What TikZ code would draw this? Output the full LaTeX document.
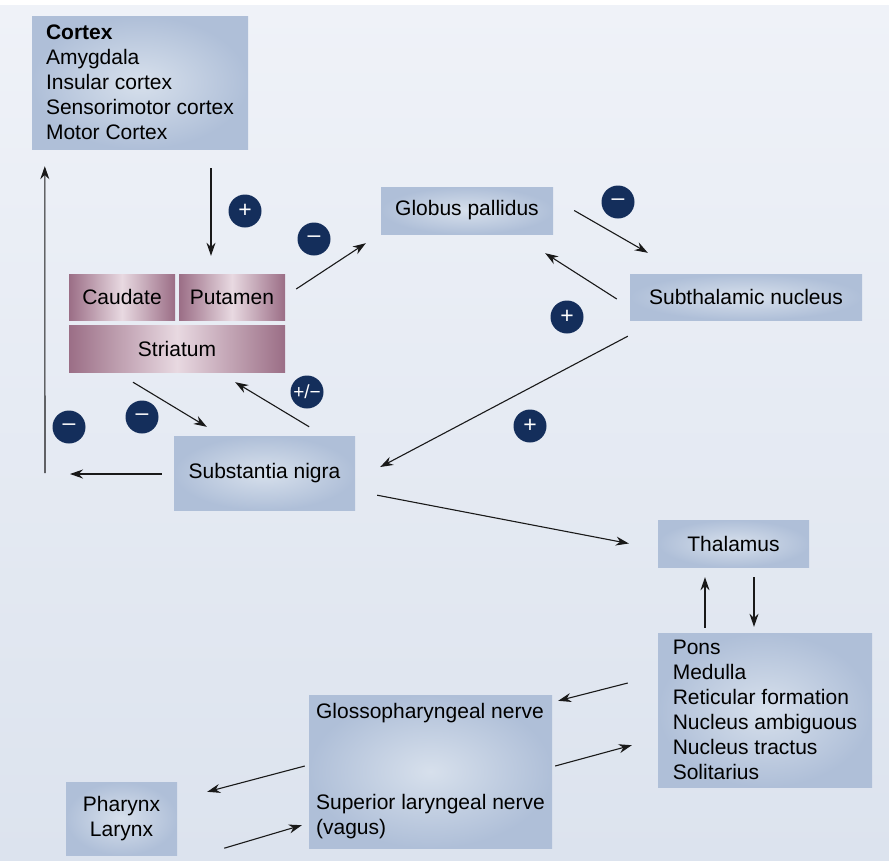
\documentclass[tikz,border=0pt]{standalone}
\usepackage{fontspec}
\setmainfont{Liberation Sans}
\usetikzlibrary{arrows.meta}
\definecolor{boxOuter}{HTML}{AFBFD8}
\definecolor{boxInner}{HTML}{D7E0EC}
\definecolor{mauveDark}{HTML}{9B6E86}
\definecolor{mauveLight}{HTML}{E8D9E1}
\definecolor{signBlue}{HTML}{142E5B}
\definecolor{bgTop}{HTML}{EFF2F8}
\definecolor{bgBottom}{HTML}{DCE3EE}
\tikzset{
	region/.style={inner color=boxInner, outer color=boxOuter, inner sep=0pt, align=left, font=\fontsize{21}{25}\selectfont},
	nucleus/.style={left color=mauveDark, right color=mauveDark, middle color=mauveLight, inner sep=0pt, minimum height=46pt, font=\fontsize{21}{25}\selectfont},
	sign/.style={circle, fill=signBlue, text=white, minimum size=33pt, inner sep=0pt, font=\fontsize{23}{23}\selectfont},
	link/.style={->, line width=1.1pt, black!90}
}

\begin{document}
\begin{tikzpicture}[x=1pt, y=-1pt, >={Stealth[length=13pt,width=9pt]}]
	\useasboundingbox (0,0) rectangle (889,860);
	\fill[white] (0,0) rectangle (889,860);
	\shade[top color=bgTop, bottom color=bgBottom] (0,5) rectangle (889,860);

	\node[region, minimum width=216pt, minimum height=133pt] (cortex) at (140,82.5)
		{\textbf{Cortex}\\Amygdala\\Insular cortex\\Sensorimotor cortex\\Motor Cortex};
	\node[nucleus, minimum width=106pt] (caudate) at (122,297) {Caudate};
	\node[nucleus, minimum width=106pt] (putamen) at (232,297) {Putamen};
	\node[nucleus, minimum width=216pt, minimum height=47pt] (striatum) at (177,348.5) {Striatum};
	\node[region, minimum width=172pt, minimum height=47pt] (gp) at (467,210.5) {Globus pallidus};
	\node[region, minimum width=232pt, minimum height=46pt] (stn) at (746,297) {Subthalamic nucleus};
	\node[region, minimum width=181pt, minimum height=74pt] (sn) at (264.5,473) {Substantia nigra};
	\node[region, minimum width=151pt, minimum height=47pt] (thal) at (733.5,543.5) {Thalamus};
	\node[region, minimum width=214pt, minimum height=154pt] (pons) at (765,710)
		{Pons\\Medulla\\Reticular formation\\Nucleus ambiguous\\Nucleus tractus\\Solitarius};
	\node[region, minimum width=243pt, minimum height=153pt] (glosso) at (430.5,771.5)
		{Glossopharyngeal nerve\\[66pt]Superior laryngeal nerve\\(vagus)};
	\node[region, align=center, minimum width=111pt, minimum height=73pt] (pharynx) at (121.5,818.5) {Pharynx\\Larynx};

	\coordinate (nigraleft) at (70,474);
	\coordinate (cortexfeed) at (45,473);

	\draw[link] ([shift={(71,19)}]cortex.south) -- ([shift={(-21,-18)}]putamen.north);
	\draw[link] ([shift={(11,-8)}]putamen.east) -- ([shift={(-15,9)}]gp.south west);
	\draw[link] ([shift={(21,0)}]gp.east) -- ([shift={(18,-21)}]stn.north west);
	\draw[link] ([shift={(-13,2)}]stn.west) -- ([shift={(-8,19)}]gp.south east);
	\draw[link] ([shift={(-2,16)}]stn.south west) -- ([shift={(25,-6)}]sn.east);
	\draw[link] ([shift={(-44,10)}]striatum.south) -- ([shift={(33,-9)}]sn.north west);
	\draw[link] ([shift={(-46,-9)}]sn.north east) -- ([shift={(-50,10)}]striatum.south east);
	\draw[link] ([shift={(-12,1)}]sn.west) -- (nigraleft);
	\draw[link] (cortexfeed) -- ([shift={(13,17)}]cortex.south west);
	\draw[link] ([shift={(22,-15)}]sn.south east) -- ([shift={(-29,0)}]thal.west);
	\draw[link] ([shift={(-60,-5)}]pons.north) -- ([shift={(-28.5,10)}]thal.south);
	\draw[link] ([shift={(20.5,10)}]thal.south) -- ([shift={(-11,-6)}]pons.north);
	\draw[link] ([shift={(-30,-27)}]pons.west) -- ([shift={(6,6)}]glosso.north east);
	\draw[link] ([shift={(3,-5.5)}]glosso.east) -- ([shift={(-26,-42)}]pons.south west);
	\draw[link] ([shift={(-4,-5.5)}]glosso.west) -- ([shift={(30,10)}]pharynx.north east);
	\draw[link] ([shift={(47,-7)}]pharynx.south east) -- ([shift={(-7,-23)}]glosso.south west);

	\foreach \x/\y/\s [count=\i] in {245/211/+, 314/239/–, 618/202/–, 567/317/+, 530/426/+, 69/427/–, 142/417/–}{
		\node[sign] (sign\i) at (\x,\y) {\s};
	}
	\node[sign, font=\fontsize{19}{19}\selectfont] (mixed) at (307,392) {+/−};
\end{tikzpicture}
\end{document}
